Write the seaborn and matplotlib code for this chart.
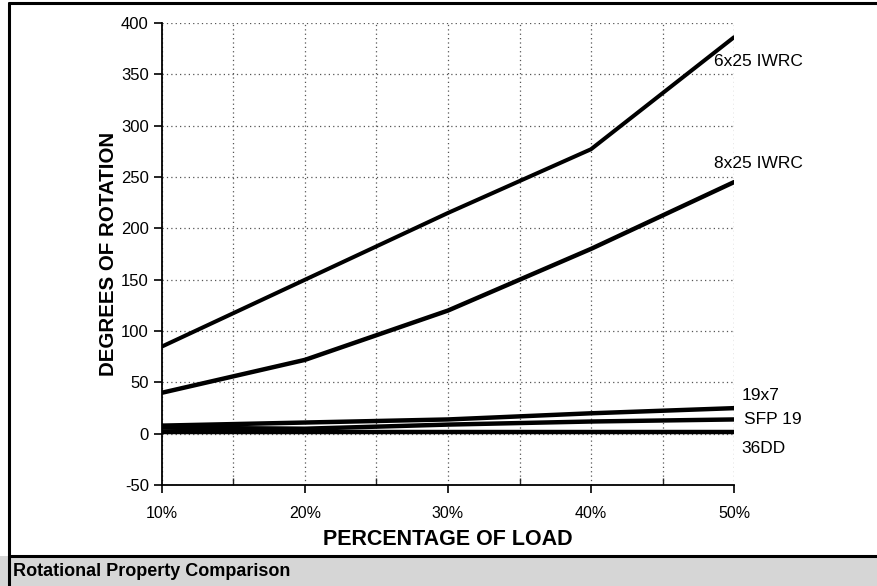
import pandas as pd
import matplotlib.pyplot as plt
import seaborn as sns
from matplotlib.patches import Rectangle
from matplotlib.lines import Line2D

# Данные
load = [10, 20, 30, 40, 50]
rope_6x25 = [85, 150, 215, 277, 386]
rope_8x25 = [40, 72, 120, 180, 245]
rope_19x7 = [8, 11, 14, 20, 25]
rope_sfp19 = [6, 5, 9, 12, 14]
rope_36dd = [2, 2, 2, 2, 2]

series = {'6x25 IWRC': rope_6x25, '8x25 IWRC': rope_8x25, '19x7': rope_19x7,
          'SFP 19': rope_sfp19, '36DD': rope_36dd}
df = pd.DataFrame([(name, x, y) for name, vals in series.items() for x, y in zip(load, vals)],
                  columns=['rope', 'load', 'rotation'])

sns.set_style('white')
plt.rcParams['font.family'] = ['Liberation Sans', 'DejaVu Sans']
plt.rcParams['axes.unicode_minus'] = False
plt.rcParams['text.color'] = 'black'
plt.rcParams['axes.labelcolor'] = 'black'

fig = plt.figure(figsize=(8.78, 5.86), dpi=100)
ax = fig.add_axes([0.1845, 0.172, 0.6515, 0.789])

sns.lineplot(data=df, x='load', y='rotation', hue='rope', palette=['black'] * 5,
             linewidth=3.2, legend=False, ax=ax)
ax.lines[0].set_linewidth(2.9)

ax.set_xlim(10, 50)
ax.set_ylim(-50, 400)
ax.set_xticks(load)
ax.set_xticklabels([f'{v}%' for v in load])
ax.set_xticks([15, 25, 35, 45], minor=True)
ax.set_yticks(range(-50, 401, 50))
ax.grid(True, which='both', linestyle=(0, (1, 2.5)), color='#555555', linewidth=0.9)
ax.tick_params(axis='both', which='major', direction='out', length=6, width=1.2,
               labelsize=12, colors='black', left=True, bottom=True)
ax.tick_params(axis='x', which='major', pad=9, labelsize=11.5)
ax.tick_params(axis='x', which='minor', direction='in', length=5, width=1, bottom=True)
for s in ['top', 'right']:
    ax.spines[s].set_visible(False)
for s in ['left', 'bottom']:
    ax.spines[s].set_color('black')
    ax.spines[s].set_linewidth(1.3)

ax.set_xlabel('PERCENTAGE OF LOAD', fontsize=15.5, fontweight='bold', labelpad=6)
ax.set_ylabel('DEGREES OF ROTATION', fontsize=14.8, fontweight='bold', labelpad=2)

# подписи линий
labels = [('6x25 IWRC', 48.6, 362), ('8x25 IWRC', 48.6, 263), ('19x7', 50.5, 37),
          ('SFP 19', 50.7, 14), ('36DD', 50.5, -14)]
for text, x, y in labels:
    ax.text(x, y, text, fontsize=12.5, va='center', ha='left', clip_on=False)

# рамка и нижняя плашка с заголовком
fig.patches.append(Rectangle((0, 0), 1, 30 / 586, transform=fig.transFigure,
                             facecolor='#d6d6d6', edgecolor='none', zorder=0))
fig.lines.append(Line2D([0.01, 1], [30 / 586, 30 / 586], transform=fig.transFigure,
                        color='black', linewidth=2.2))
fig.lines.append(Line2D([0.01, 1], [0.995, 0.995], transform=fig.transFigure,
                        color='black', linewidth=2.2))
fig.lines.append(Line2D([0.01, 0.01], [0, 0.995], transform=fig.transFigure,
                        color='black', linewidth=2.2))
fig.text(0.015, 15 / 586, 'Rotational Property Comparison', fontsize=13,
         fontweight='bold', va='center', ha='left')

plt.savefig('out.png', dpi=100)
